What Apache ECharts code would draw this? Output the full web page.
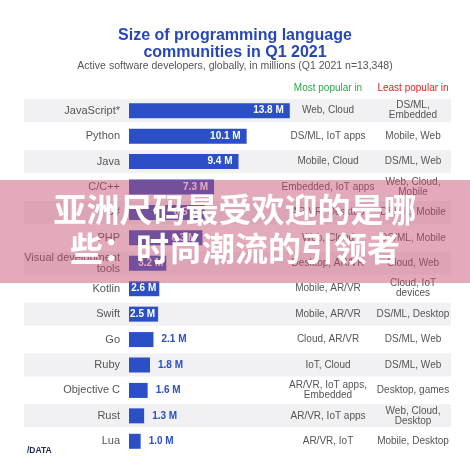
<!DOCTYPE html>
<html><head><meta charset="utf-8">
<script src="https://cdn.jsdelivr.net/npm/echarts@6/dist/echarts.min.js"></script>
<style>html,body{margin:0;padding:0;background:#fff}#c{width:470px;height:465px}</style>
</head><body><div id="c"></div>
<script>
var categories = ['JavaScript*','Python','Java','C/C++','C#','PHP','Visual development\ntools','Kotlin','Swift','Go','Ruby','Objective C','Rust','Lua'];
var values = [13.8,10.1,9.4,7.3,6.5,6.3,3.2,2.6,2.5,2.1,1.8,1.6,1.3,1.0];
var mostPopular = ['Web, Cloud','DS/ML, IoT apps','Mobile, Cloud','Embedded, IoT apps','AR/VR, Desktop','Web, Cloud','Desktop, AR/VR','Mobile, AR/VR','Mobile, AR/VR','Cloud, AR/VR','IoT, Cloud','AR/VR, IoT apps,\nEmbedded','AR/VR, IoT apps','AR/VR, IoT'];
var leastPopular = ['DS/ML,\nEmbedded','Mobile, Web','DS/ML, Web','Web, Cloud,\nMobile','DS/ML, Mobile','DS/ML, Mobile','Cloud, Web','Cloud, IoT\ndevices','DS/ML, Desktop','DS/ML, Web','DS/ML, Web','Desktop, games','Web, Cloud,\nDesktop','Mobile, Desktop'];

var FONT = '"Liberation Sans", Arial, sans-serif';
var BLUE = '#2a4fc6';
var chart = echarts.init(document.getElementById('c'), null, {renderer:'canvas'});

var barData = values.map(function(v){
  var inside = v >= 2.5;
  return {value: v, label: {
    show: true,
    position: inside ? 'insideRight' : 'right',
    distance: inside ? (v < 5 ? 3 : 6) : 8,
    color: inside ? '#fff' : BLUE,
    fontWeight: 'bold', fontSize: 10, fontFamily: FONT,
    formatter: function(p){ return p.value.toFixed(1) + ' M'; }
  }};
});
var bandData = categories.map(function(c, i){
  return {value: 1, itemStyle: {color: i % 2 === 0 ? '#f1f1f3' : 'rgba(0,0,0,0)'}};
});

function textAxis(data, offset){
  return {type:'category', gridIndex:1, data:data, inverse:true, position:'left', offset:offset, z:10,
    axisLine:{show:false}, axisTick:{show:false},
    axisLabel:{interval:0, align:'center', margin:0, fontSize:10, lineHeight:10, color:'#555', fontFamily:FONT}};
}

chart.setOption({
  backgroundColor:'#fff',
  animation:false,
  title:[
    {text:'Size of programming language\ncommunities in Q1 2021', left:'center', top:22,
     textStyle:{color:'#2747b8', fontSize:16, fontWeight:'bold', lineHeight:17, fontFamily:FONT},
     subtext:'Active software developers, globally, in millions (Q1 2021 n=13,348)', itemGap:0,
     subtextStyle:{color:'#555', fontSize:10.5, fontFamily:FONT}},
    {text:'Most popular in', left:323, top:78, textAlign:'center', textStyle:{color:'#2aa84a', fontSize:10, fontWeight:'normal', fontFamily:FONT}},
    {text:'Least popular in', left:408, top:78, textAlign:'center', textStyle:{color:'#e02424', fontSize:10, fontWeight:'normal', fontFamily:FONT}}
  ],
  grid:[
    {left:24, width:427, top:98, height:356},
    {left:129, width:233, top:98, height:356}
  ],
  xAxis:[
    {type:'value', gridIndex:0, min:0, max:1, show:false},
    {type:'value', gridIndex:1, min:0, max:20, show:false}
  ],
  yAxis:[
    {type:'category', gridIndex:0, data:categories, inverse:true, show:false},
    {type:'category', gridIndex:1, data:categories, inverse:true, z:10,
     axisLine:{show:false}, axisTick:{show:false},
     axisLabel:{interval:0, margin:9, fontSize:11, lineHeight:11, color:'#555', fontFamily:FONT}},
    textAxis(mostPopular, -199),
    textAxis(leastPopular, -284)
  ],
  series:[
    {type:'bar', xAxisIndex:0, yAxisIndex:0, data:bandData, barWidth:23, silent:true, z:1},
    {type:'bar', xAxisIndex:1, yAxisIndex:1, data:barData, barWidth:15, itemStyle:{color:BLUE}, silent:true, z:3}
  ],
  graphic:[
    {type:'text', left:27, top:446, style:{text:'/DATA', fill:'#1c2a55', font:'bold 8.5px ' + FONT}},
    {type:'rect', left:0, top:180, z:100, shape:{width:470, height:103}, style:{fill:'rgba(196,80,110,0.48)'}},
    {type:'text', z:101, left:'center', top:193, style:{text:'亚洲尺码最受欢迎的是哪', fill:'#fff', font:'bold 33px "Noto Sans CJK SC"'}},
    {type:'text', z:101, left:'center', top:232, style:{text:'些：时尚潮流的引领者', fill:'#fff', font:'bold 33px "Noto Sans CJK SC"'}}
  ]
});
</script></body></html>
